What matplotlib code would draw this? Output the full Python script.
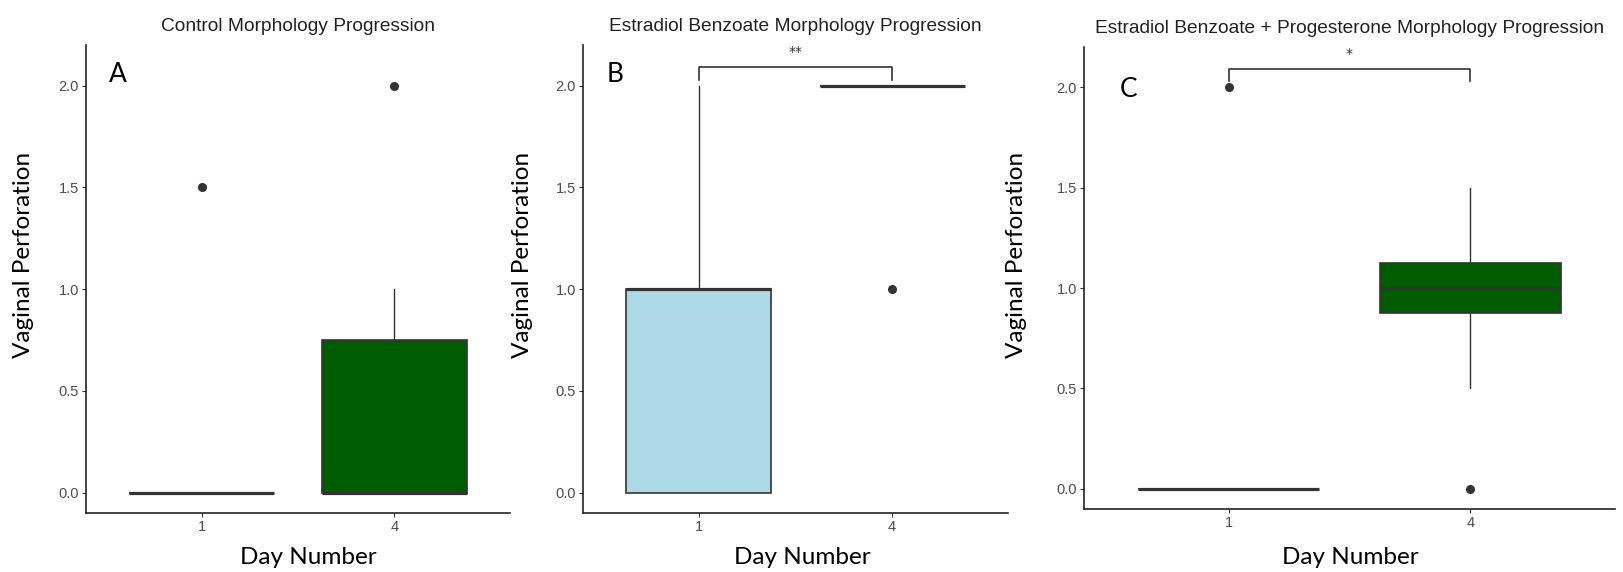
import matplotlib.pyplot as plt

# box summary stats per panel, days 1 and 4
days = ['1', '4']
titles = ['Control Morphology Progression',
          'Estradiol Benzoate Morphology Progression',
          'Estradiol Benzoate + Progesterone Morphology Progression']
letters = ['A', 'B', 'C']
fills = [['white', '#005c00'], ['#add8e6', 'white'], ['white', '#005c00']]

q1 = [[0, 0], [0, 2], [0, 0.875]]
med = [[0, 0], [1, 2], [0, 1]]
q3 = [[0, 0.75], [1, 2], [0, 1.125]]
whislo = [[0, 0], [0, 2], [0, 0.5]]
whishi = [[0, 1], [2, 2], [0, 1.5]]
fliers = [[[1.5], [2.0]], [[], [1.0]], [[2.0], [0.0]]]

# significance brackets (None = no bracket)
sig = [None, '**', '*']

# layout: axes rectangles in figure fractions (screenshots stitched together)
rects = [[0.0530, 0.1031, 0.2612, 0.8182],
         [0.3592, 0.1031, 0.2619, 0.8182],
         [0.6679, 0.1101, 0.3272, 0.8077]]
letter_pos = [(0.054, 0.921), (0.056, 0.921), (0.068, 0.892)]
ylabel_x = [0.0142, 0.3222, 0.6266]
xlabel_x = [0.1898, 0.4941, 0.8318]

fig = plt.figure(figsize=(16.23, 5.72), dpi=100)
grey = '#333333'

for i in range(3):
    ax = fig.add_axes(rects[i])
    stats = []
    for j in range(2):
        stats.append({'q1': q1[i][j], 'med': med[i][j], 'q3': q3[i][j],
                      'whislo': whislo[i][j], 'whishi': whishi[i][j],
                      'fliers': fliers[i][j]})
    ax.bxp(stats, positions=[1, 2], widths=0.75, showcaps=False, patch_artist=True,
           boxprops=dict(edgecolor=grey, linewidth=1.2),
           medianprops=dict(color=grey, linewidth=2.3, solid_capstyle='butt'),
           whiskerprops=dict(color=grey, linewidth=1.0),
           flierprops=dict(marker='o', markerfacecolor=grey, markeredgecolor=grey,
                           markersize=5.5))
    for patch, c in zip(ax.patches, fills[i]):
        patch.set_facecolor(c)

    ax.set_xlim(0.4, 2.6)
    ax.set_ylim(-0.1, 2.2)
    ax.set_xticks([1, 2])
    ax.set_xticklabels(days)
    ax.set_yticks([0, 0.5, 1.0, 1.5, 2.0])
    ax.set_yticklabels(['0.0', '0.5', '1.0', '1.5', '2.0'])
    ax.tick_params(labelsize=10.5, labelcolor='#4d4d4d', length=3, color='#333333',
                   width=0.8, pad=2)
    for lab in ax.get_xticklabels() + ax.get_yticklabels():
        lab.set_family('Liberation Sans')
    for s in ['top', 'right']:
        ax.spines[s].set_visible(False)
    for s in ['left', 'bottom']:
        ax.spines[s].set_linewidth(1.2)
        ax.spines[s].set_color('#222222')

    ax.set_title(titles[i], fontsize=13.8, family='Liberation Sans', color='#222222',
                 pad=10)
    ax.text(letter_pos[i][0], letter_pos[i][1], letters[i], transform=ax.transAxes,
            fontsize=19, family='Lato', va='baseline')

    if sig[i]:
        ax.plot([1, 1, 2, 2], [2.03, 2.09, 2.09, 2.03], color='#333333', lw=1.2)
        ax.text(1.5, 2.13, sig[i], ha='center', va='bottom', fontsize=10,
                color='#333333')

    fig.text(ylabel_x[i], 0.554, 'Vaginal Perforation', rotation=90, ha='center',
             va='center', fontsize=17.5, family='Lato')
    fig.text(xlabel_x[i], 0.0245, 'Day Number', ha='center', va='center',
             fontsize=17.5, family='Lato')

fig.savefig('out.png', dpi=100)
